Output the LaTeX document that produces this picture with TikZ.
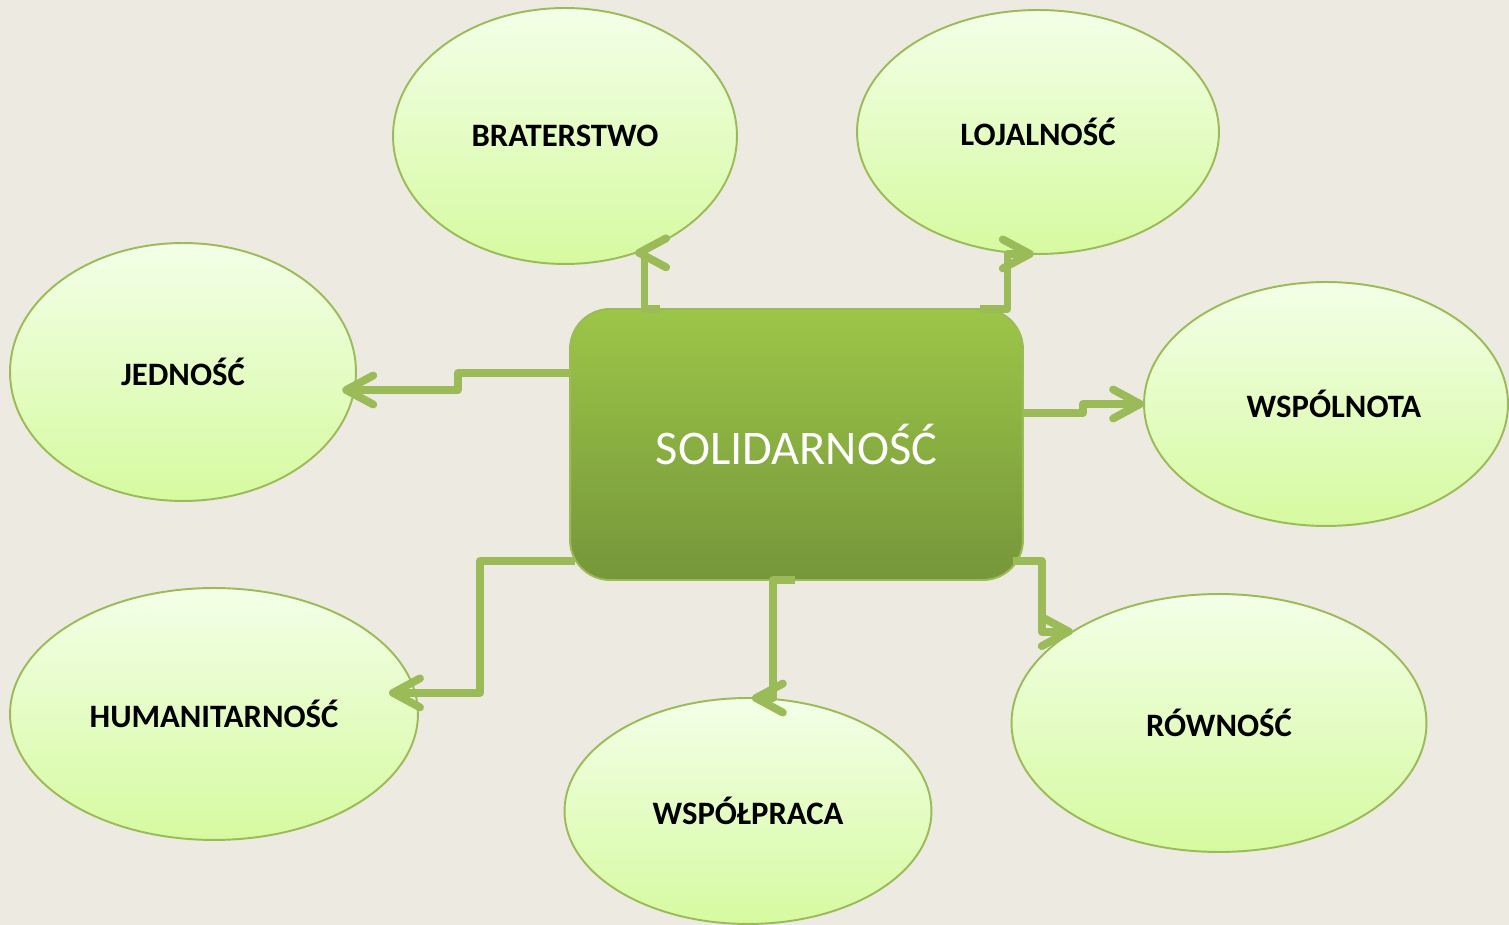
\documentclass[tikz,border=0pt]{standalone}
\usepackage{fontspec}
\setmainfont{Carlito}
\usetikzlibrary{arrows.meta,shapes.geometric,calc}
\definecolor{backdrop}{HTML}{EDEBE1}
\definecolor{linkgreen}{HTML}{9BBB59}
\definecolor{bubbletop}{HTML}{F3FFE8}
\definecolor{bubblebot}{HTML}{D6FAA0}
\definecolor{hubtop}{HTML}{9CC648}
\definecolor{hubbot}{HTML}{76963A}
\tikzset{
  bubble/.style={ellipse, draw=linkgreen, line width=1.1pt, top color=bubbletop,
    bottom color=bubblebot, inner sep=0pt, outer sep=0pt, align=center,
    font=\fontsize{18.6}{21}\selectfont\bfseries},
  hub/.style={rectangle, rounded corners=0.8cm, draw=linkgreen, line width=1.1pt,
    top color=hubtop, bottom color=hubbot, text=white, inner sep=0pt, outer sep=0pt,
    minimum width=9.06cm, minimum height=5.42cm, font=\fontsize{27.5}{32}\selectfont},
  link/.style={draw=linkgreen, line width=4.5pt, line join=round,
    -{Straight Barb[length=0.54cm, width=0.58cm, round]}}
}
\begin{document}
\begin{tikzpicture}[x=0.02cm, y=-0.02cm]
  \path[use as bounding box, fill=backdrop] (0,0) rectangle (1509,925);
  \clip (0,0) rectangle (1509,925);

  % outer ideas
  \node[bubble, minimum width=6.88cm, minimum height=5.12cm] (brat) at (565,136) {BRATERSTWO};
  \node[bubble, minimum width=7.24cm, minimum height=4.88cm] (loj) at (1038,132) {LOJALNOŚĆ};
  \node[bubble, minimum width=6.92cm, minimum height=5.16cm] (jed) at (183,372) {JEDNOŚĆ};
  \node[bubble, minimum width=7.28cm, minimum height=4.88cm] (wspol) at (1326,404) {\hspace*{0.32cm}WSPÓLNOTA};
  \node[bubble, minimum width=8.16cm, minimum height=5.04cm] (hum) at (214,714) {HUMANITARNOŚĆ};
  \node[bubble, minimum width=7.34cm, minimum height=4.52cm] (wsp) at (748,811) {WSPÓŁPRACA};
  \node[bubble, minimum width=8.30cm, minimum height=5.16cm] (rown) at (1219,723) {RÓWNOŚĆ};

  % centre
  \node[hub] (sol) at (796.5,444.5) {SOLIDARNOŚĆ};

  % elbow links
  \draw[link] ($(sol.north)+(-137,0)$) -- ++(-15,0) |- (brat.-59);
  \draw[link] ($(sol.north)+(183,0)$) -- ++(28,0) |- (loj.-92);
  \draw[link] ($(sol.west)+(0,-71.5)$) -- ++(-112,0) |- ($(jed.-6)+(-12,0)$);
  \draw[link] ($(sol.south west)+(5,-19)$) -- ++(-95,0) |- ($(hum.6)+(-26,0)$);
  \draw[link] ($(sol.south)+(-1.5,0)$) -- ++(-22,0) |- (wsp.88);
  \draw[link] ($(sol.east)+(0,-31.5)$) -- ++(60,0) |- (wspol.west);
  \draw[link] ($(sol.south east)+(-10,-19)$) -- ++(29,0) |- (rown.148);
\end{tikzpicture}
\end{document}
